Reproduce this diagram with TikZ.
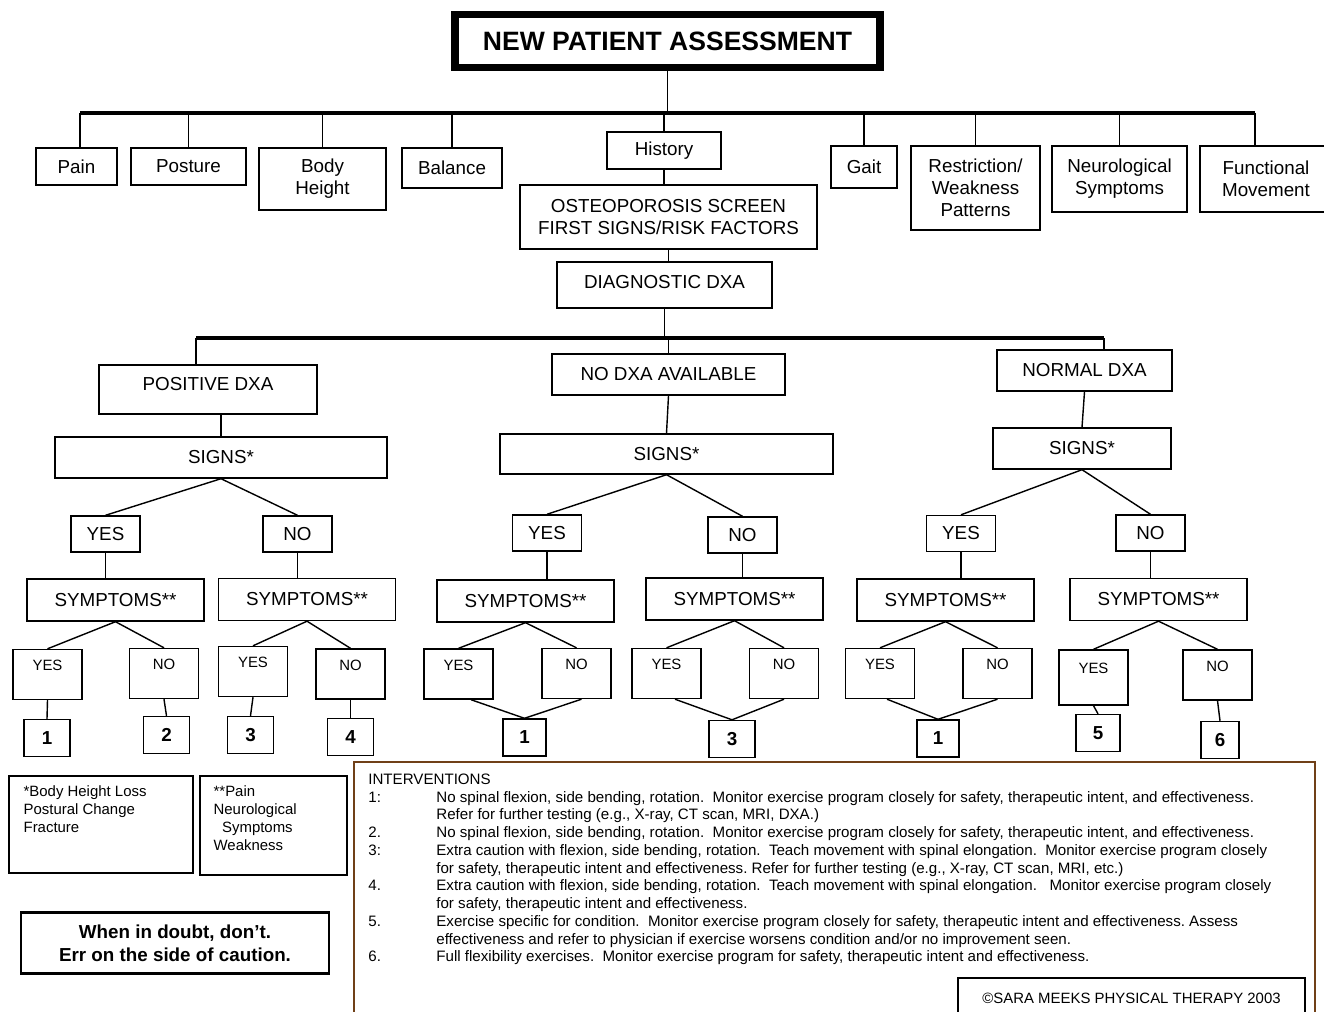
\documentclass[tikz,border=0pt]{standalone}
\usepackage{fontspec}
\setmainfont{Liberation Sans}
\usetikzlibrary{positioning}
\definecolor{boxbrown}{RGB}{112,64,24}
\newcommand{\boxfont}{\fontsize{10.7}{12.5}\selectfont}
\newcommand{\smallfont}{\fontsize{8.5}{10.2}\selectfont}

\begin{document}
\begin{tikzpicture}[x=0.2mm, y=-0.2mm,
  box/.style={draw, line width=0.8pt, inner sep=0pt, align=center,
    font=\boxfont, minimum height=7.4mm},
  leaf/.style={box, font=\smallfont, minimum width=13.8mm,
    minimum height=10mm, text depth=10pt},
  numbox/.style={box, font=\bfseries\boxfont, minimum width=9.2mm,
    minimum height=7.4mm},
  yn/.style={box, minimum width=13.8mm, minimum height=7.2mm},
  symbox/.style={box, minimum width=35.4mm, minimum height=8.4mm},
  note/.style={draw, line width=0.8pt, inner sep=0pt},
  notetext/.style={inner sep=0pt, align=left, anchor=north west, font=\smallfont},
  link/.style={line width=0.8pt},
  bar/.style={line width=2.3pt}
]
\useasboundingbox (0,0) rectangle (1324,1012);

% title and first level
\node[box, line width=4.5pt, minimum width=85mm, minimum height=10.6mm,
  font=\bfseries\fontsize{15.1}{17}\selectfont] (title) at (667.5,41) {NEW PATIENT ASSESSMENT};
\coordinate (barL) at (80,113);
\coordinate (barR) at (1255,113);

\node[box, minimum width=16.2mm] (pain) at (76.5,166.5) {Pain};
\node[box, minimum width=23mm] (posture) at (188.5,166.5) {Posture};
\node[box, minimum width=25.4mm, minimum height=12.4mm] (body) at (322.5,179) {Body\\Height};
\node[box, minimum width=20mm, minimum height=8mm] (balance) at (452,168) {Balance};
\node[box, minimum width=22.8mm] (history) at (664,150.5) {History};
\node[box, minimum width=59.4mm, minimum height=12.8mm] (osteo) at (668.5,217) {OSTEOPOROSIS SCREEN\\FIRST SIGNS/RISK FACTORS};
\node[box, minimum width=43mm, minimum height=9.2mm, text depth=3.4pt] (diag) at (664.5,285) {DIAGNOSTIC DXA};
\node[box, minimum width=13.2mm, minimum height=8.4mm] (gait) at (864,167) {Gait};
\node[box, minimum width=25.8mm, minimum height=16.8mm] (restr) at (975.5,188) {Restriction/\\Weakness\\Patterns};
\node[box, minimum width=27mm, minimum height=13.2mm] (neuro) at (1119.5,179) {Neurological\\Symptoms};
\node[box, minimum width=26.4mm, minimum height=13.2mm] (func) at (1266,179) {Functional\\Movement};

\draw[bar] (barL) -- (barR);
\draw[link] (title.south) -- (title.south |- barL);
\foreach \n in {posture,body,balance,history,gait,restr,neuro}
  \draw[link] (\n.north) -- (\n.north |- barL);
\draw[link] (barL) -- (barL |- pain.north);
\draw[link] (barR) -- (barR |- func.north);
\draw[link] (history.south) -- (history.south |- osteo.north);
\draw[link] (osteo.south) -- (osteo.south |- diag.north);

% second level
\coordinate (midL) at (196,338);
\coordinate (midR) at (1104,338);
\node[box, minimum width=43.6mm, minimum height=9.8mm, text depth=6.2pt] (posdxa) at (208,389.5) {POSITIVE DXA};
\node[box, minimum width=46.6mm, minimum height=8.2mm] (nodxa) at (668.5,374.5) {NO DXA AVAILABLE};
\node[box, minimum width=35mm, minimum height=8.2mm] (normdxa) at (1084.5,370.5) {NORMAL DXA};
\draw[bar] (midL) -- (midR);
\draw[link] (diag.south) -- (diag.south |- midL);
\draw[link] (midL) -- (midL |- posdxa.north);
\draw[link] (nodxa.north) -- (nodxa.north |- midL);
\draw[link] (midR) -- (midR |- normdxa.north);

\node[box, minimum width=66.4mm, minimum height=8.2mm] (signsL) at (221,457.5) {SIGNS*};
\node[box, minimum width=66.6mm, minimum height=8mm] (signsM) at (666.5,454) {SIGNS*};
\node[box, minimum width=35.6mm, minimum height=8.2mm] (signsR) at (1082,448.5) {SIGNS*};
\draw[link] (signsL.north |- posdxa.south) -- (signsL.north);
\draw[link] (nodxa.south) -- (signsM.north);
\draw[link] (normdxa.south) -- (signsR.north);

% yes / no
\node[yn] (yesL) at (105.5,534) {YES};
\node[yn] (noL) at (297.5,534) {NO};
\node[yn] (yesM) at (547,533) {YES};
\node[yn] (noM) at (742.5,535) {NO};
\node[yn] (yesR) at (961,533.5) {YES};
\node[yn] (noR) at (1150.5,533) {NO};
\draw[link] (yesL.north) -- (signsL.south) -- (noL.north);
\draw[link] (yesM.north) -- (signsM.south) -- (noM.north);
\draw[link] (yesR.north) -- (signsR.south) -- (noR.north);

\node[symbox] (symLY) at (115.5,600) {SYMPTOMS**};
\node[symbox] (symLN) at (307,599.5) {SYMPTOMS**};
\node[symbox] (symMY) at (525.5,601) {SYMPTOMS**};
\node[symbox] (symMN) at (734.5,599) {SYMPTOMS**};
\node[symbox] (symRY) at (945.5,600) {SYMPTOMS**};
\node[symbox] (symRN) at (1158.5,599.5) {SYMPTOMS**};
\foreach \a/\b in {yesL/symLY,noL/symLN,yesM/symMY,noM/symMN,yesR/symRY,noR/symRN}
  \draw[link] (\a.south) -- (\a.south |- \b.north);

% leaves
\node[leaf] (lyy) at (47.5,674.5) {YES};
\node[leaf] (lyn) at (164,673.5) {NO};
\node[leaf] (lny) at (253,671.5) {YES};
\node[leaf] (lnn) at (350.5,674) {NO};
\node[leaf] (myy) at (458.5,674) {YES};
\node[leaf] (myn) at (576.5,673.5) {NO};
\node[leaf] (mny) at (666.5,673.5) {YES};
\node[leaf] (mnn) at (784,673.5) {NO};
\node[leaf] (ryy) at (880,673.5) {YES};
\node[leaf] (ryn) at (997.5,673.5) {NO};
\node[leaf, minimum height=11mm] (rny) at (1093.5,677.5) {YES};
\node[leaf] (rnn) at (1217.5,675) {NO};
\foreach \s/\a/\b in {symLY/lyy/lyn,symLN/lny/lnn,symMY/myy/myn,symMN/mny/mnn,symRY/ryy/ryn,symRN/rny/rnn}
  \draw[link] (\a.north) -- (\s.south) -- (\b.north);

\node[numbox] (n1a) at (47,738) {1};
\node[numbox] (n2) at (166.5,735) {2};
\node[numbox] (n3a) at (250.5,735) {3};
\node[numbox] (n4) at (350.5,737) {4};
\node[numbox, minimum width=8.6mm] (n1b) at (524.5,737.5) {1};
\node[numbox] (n3b) at (732,739) {3};
\node[numbox, minimum width=8.4mm] (n1c) at (938,738.5) {1};
\node[numbox, minimum width=8.8mm] (n5) at (1098,733) {5};
\node[numbox, minimum width=7.6mm] (n6) at (1220,740) {6};
\draw[link] (lyy.south) -- (n1a.north);
\draw[link] (lyn.south) -- (n2.north);
\draw[link] (lny.south) -- (n3a.north);
\draw[link] (lnn.south) -- (n4.north);
\draw[link] ([xshift=2.5mm]myy.south) -- (n1b.north) -- ([xshift=1mm]myn.south);
\draw[link] ([xshift=1.7mm]mny.south) -- (n3b.north) -- (mnn.south);
\draw[link] ([xshift=1.4mm]ryy.south) -- (n1c.north) -- (ryn.south);
\draw[link] (rny.south) -- (n5.north);
\draw[link] (rnn.south) -- (n6.north);

% footnotes and interventions
\node[note, minimum width=36.8mm, minimum height=19.4mm] (signsnote) at (101,824.5) {};
\node[notetext] (signstext) at ([xshift=3mm,yshift=-2mm]signsnote.north west)
  {*Body Height Loss\\Postural Change\\Fracture};
\node[note, minimum width=29.4mm, minimum height=19.8mm] (symnote) at (273.5,825.5) {};
\node[notetext] (symtext) at ([xshift=2.8mm,yshift=-2mm]symnote.north west)
  {**Pain\\Neurological\\\hspace*{1.7mm}Symptoms\\Weakness};
\node[note, line width=1.4pt, minimum width=61.6mm, minimum height=12.2mm, align=center,
  font=\bfseries\fontsize{10.7}{13}\selectfont] (caution) at (175,943)
  {When in doubt, don't.\\Err on the side of caution.};

\node[draw=boxbrown, line width=1.1pt, inner sep=0pt, minimum width=192.2mm,
  minimum height=52mm] (interv) at (834.5,892) {};
\node[notetext, font=\fontsize{8.6}{10.1}\selectfont\frenchspacing] (intervtext)
  at ([xshift=3mm,yshift=-2.1mm]interv.north west) {%
\begin{tabular}{@{}p{13.6mm}@{}l@{}}
\multicolumn{2}{@{}l@{}}{INTERVENTIONS}\\
1: & No spinal flexion, side bending, rotation.\ \ Monitor exercise program closely for safety, therapeutic intent, and effectiveness.\\
 & Refer for further testing (e.g., X-ray, CT scan, MRI, DXA.)\\
2. & No spinal flexion, side bending, rotation.\ \ Monitor exercise program closely for safety, therapeutic intent, and effectiveness.\\
3: & Extra caution with flexion, side bending, rotation.\ \ Teach movement with spinal elongation.\ \ Monitor exercise program closely\\
 & for safety, therapeutic intent and effectiveness. Refer for further testing (e.g., X-ray, CT scan, MRI, etc.)\\
4. & Extra caution with flexion, side bending, rotation.\ \ Teach movement with spinal elongation.\ \ \ Monitor exercise program closely\\
 & for safety, therapeutic intent and effectiveness.\\
5. & Exercise specific for condition.\ \ Monitor exercise program closely for safety, therapeutic intent and effectiveness. Assess\\
 & effectiveness and refer to physician if exercise worsens condition and/or no improvement seen.\\
6. & Full flexibility exercises.\ \ Monitor exercise program for safety, therapeutic intent and effectiveness.
\end{tabular}};
\node[note, minimum width=69.4mm, minimum height=8mm, font=\smallfont] (copyright)
  at (1131.5,998) {©SARA MEEKS PHYSICAL THERAPY 2003};
\end{tikzpicture}
\end{document}
